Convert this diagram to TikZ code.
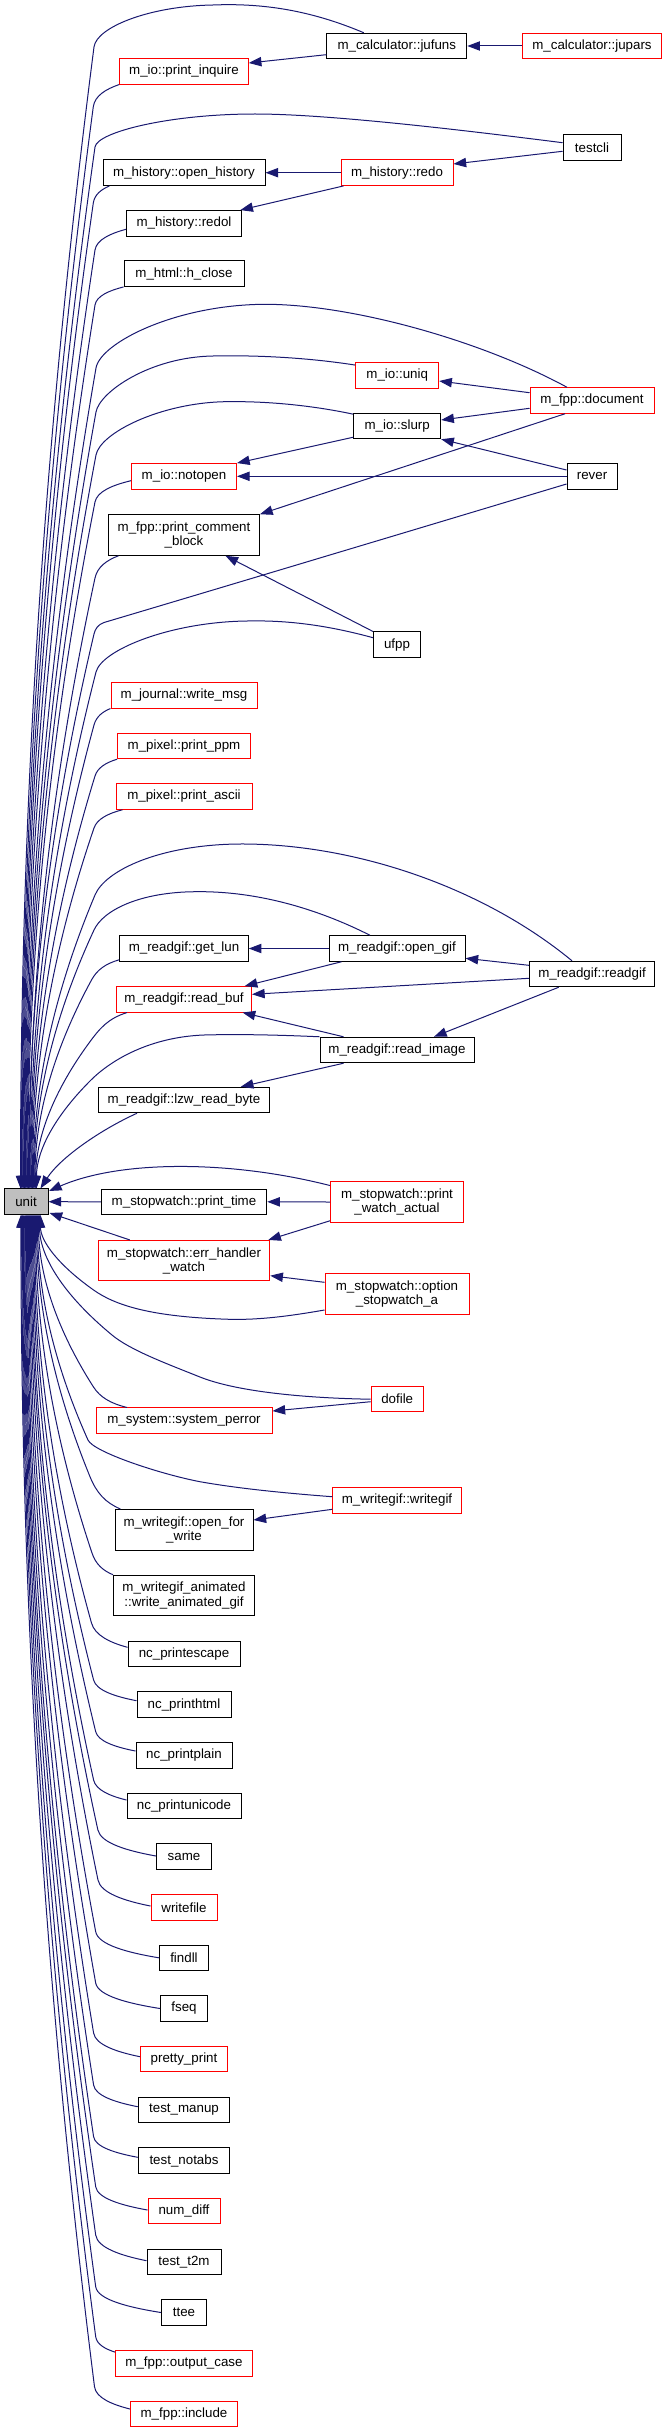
\documentclass[tikz,border=0pt]{standalone}
\usepackage{fontspec}
\setmainfont{Liberation Sans}
\usetikzlibrary{arrows.meta,calc}
\definecolor{edgecol}{RGB}{25,25,112}
\definecolor{nred}{RGB}{255,0,0}
\definecolor{ugray}{RGB}{191,191,191}
% simple edge: start, knee, target
\newcommand\UEs[3]{%
 \draw[conn] let \p1=#1, \p2=#2, \p3=#3 in
 (\p1) .. controls ({(\x1)-0.5*((\x1)-(\x2))}, {(\y1)+0.2*((\y2)-(\y1))})
 and ({(\x2)+abs((\y2)-(\y1))*((\x2)-(\x3))/abs((\y3)-(\y2))}, {(\y2)-0.5*((\y2)-(\y1))}) .. (\p2)
 .. controls ({(\x2)+0.66*((\x3)-(\x2))}, {(\y2)+0.33*((\y3)-(\y2))}) and (\x3, {(\y3)-0.35*((\y3)-(\y2))}) .. (\p3);}
% arc edge: start, c1, c2, peak, c3, h, knee, target
\newcommand\UEa[8]{%
 \draw[conn] let \p2=#7, \p3=#8 in
 #1 .. controls #2 and #3 .. #4 .. controls #5 and
 ({(\x2)+1.5*#6*((\x2)-(\x3))/abs((\y3)-(\y2))}, {(\y2)-0.75*#6*sign((\y3)-(\y2))}) .. (\p2)
 .. controls ({(\x2)+0.66*((\x3)-(\x2))}, {(\y2)+0.33*((\y3)-(\y2))}) and (\x3, {(\y3)-0.35*((\y3)-(\y2))}) .. (\p3);}
\begin{document}
\begin{tikzpicture}[x=0.75pt,y=-0.75pt,
  bx/.style={draw=black, line width=0.75pt, fill=white, inner sep=1pt, minimum height=19.1pt,
    font=\fontsize{10pt}{10.7pt}\selectfont, align=center},
  rbx/.style={bx, draw=nred},
  tall/.style={minimum height=30.4pt},
  wd/.style={minimum width=#1*0.75pt},
  conn/.style={draw=edgecol, line width=0.75pt, -{Triangle[length=9.5pt,width=7pt]}}]
\useasboundingbox (0,0) rectangle (664,2433);
% nodes
\node[bx,wd=140] (jufuns) at (396.8,46) {m\_calculator::jufuns};
\node[rbx,wd=139] (jupars) at (592,46) {m\_calculator::jupars};
\node[rbx,wd=128.5] (pinq) at (184,71.3) {m\_io::print\_inquire};
\node[bx,wd=58] (testcli) at (592,147.3) {testcli};
\node[bx,wd=162] (ohist) at (184,172.7) {m\_history::open\_history};
\node[rbx,wd=112] (redo) at (397,172.7) {m\_history::redo};
\node[bx,wd=115] (redol) at (184,223.3) {m\_history::redol};
\node[bx,wd=120] (hclose) at (184,273.7) {m\_html::h\_close};
\node[rbx,wd=83] (uniq) at (397.2,375.3) {m\_io::uniq};
\node[rbx,wd=124] (doc) at (592,400.5) {m\_fpp::document};
\node[bx,wd=87] (slurp) at (397.2,426) {m\_io::slurp};
\node[rbx,wd=105] (notopen) at (184,476.3) {m\_io::notopen};
\node[bx,wd=50] (rever) at (592,476.3) {rever};
\node[bx,tall,wd=151] (pcb) at (184,535) {m\_fpp::print\_comment\\\_block};
\node[bx,wd=47] (ufpp) at (397,644.7) {ufpp};
\node[rbx,wd=146] (wmsg) at (184,695.3) {m\_journal::write\_msg};
\node[rbx,wd=133] (ppm) at (184,746) {m\_pixel::print\_ppm};
\node[rbx,wd=136] (pascii) at (184,796.5) {m\_pixel::print\_ascii};
\node[bx,wd=128.5] (getlun) at (184,948.5) {m\_readgif::get\_lun};
\node[bx,wd=136] (opengif) at (397,948.5) {m\_readgif::open\_gif};
\node[bx,wd=125] (readgif) at (592,974) {m\_readgif::readgif};
\node[rbx,wd=135] (readbuf) at (184,999.3) {m\_readgif::read\_buf};
\node[bx,wd=154] (readimg) at (397,1050) {m\_readgif::read\_image};
\node[bx,wd=170.6] (lzw) at (184,1100) {m\_readgif::lzw\_read\_byte};
\node[bx,fill=ugray,wd=44] (unit) at (26,1201.7) {unit};
\node[bx,wd=165.5] (ptime) at (184,1201.8) {m\_stopwatch::print\_time};
\node[rbx,tall,wd=133] (pwa) at (397,1202) {m\_stopwatch::print\\\_watch\_actual};
\node[rbx,tall,wd=171.5] (err) at (184,1260.7) {m\_stopwatch::err\_handler\\\_watch};
\node[rbx,tall,wd=144] (opt) at (397,1294) {m\_stopwatch::option\\\_stopwatch\_a};
\node[rbx,wd=52] (dofile) at (397.2,1399.2) {dofile};
\node[rbx,wd=176] (sperr) at (184,1420.7) {m\_system::system\_perror};
\node[rbx,wd=128.5] (writegif) at (397,1500.5) {m\_writegif::writegif};
\node[bx,tall,wd=138] (ofw) at (184,1529.8) {m\_writegif::open\_for\\\_write};
\node[bx,tall,wd=141] (wag) at (184,1595.5) {m\_writegif\_animated\\::write\_animated\_gif};
\node[bx,wd=112] (nce) at (184,1654) {nc\_printescape};
\node[bx,wd=94] (nch) at (184,1704.7) {nc\_printhtml};
\node[bx,wd=96] (ncp) at (184,1755.3) {nc\_printplain};
\node[bx,wd=114] (ncu) at (184,1806) {nc\_printunicode};
\node[bx,wd=55] (same) at (184,1856.5) {same};
\node[rbx,wd=66] (writefile) at (184,1907.3) {writefile};
\node[bx,wd=49] (findll) at (184,1957.8) {findll};
\node[bx,wd=47] (fseq) at (184,2008.5) {fseq};
\node[rbx,wd=87] (pretty) at (184,2059) {pretty\_print};
\node[bx,wd=91.5] (tmanup) at (184,2110) {test\_manup};
\node[bx,wd=91.5] (tnotabs) at (184,2160.5) {test\_notabs};
\node[rbx,wd=72] (numdiff) at (184,2211) {num\_diff};
\node[bx,wd=74] (tt2m) at (184,2262) {test\_t2m};
\node[bx,wd=45] (ttee) at (184,2312.5) {ttee};
\node[rbx,wd=137] (outcase) at (184,2363.3) {m\_fpp::output\_case};
\node[rbx,wd=107] (include) at (184,2414) {m\_fpp::include};
% edges between callers
\draw[conn] (jupars.west) -- (jufuns.east);
\draw[conn] ($(jufuns.west)+(0,8.7)$) -- ($(pinq.east)+(0,-8.3)$);
\draw[conn] ($(testcli.west)+(0,4)$) -- ($(redo.east)+(0,-8.7)$);
\draw[conn] (redo.west) -- (ohist.east);
\draw[conn] ($(redo.south west)+(3,0)$) -- ($(redol.north east)+(-1.7,0)$);
\draw[conn] ($(doc.west)+(0,-7.8)$) -- ($(uniq.east)+(0,5.7)$);
\draw[conn] ($(doc.west)+(0,7.8)$) -- ($(slurp.east)+(0,-6)$);
\draw[conn] ($(slurp.south west)+(0,-2)$) -- (notopen.north east);
\draw[conn] ($(rever.west)+(0,-6.3)$) -- (slurp.south east);
\draw[conn] (rever.west) -- (notopen.east);
\draw[conn] ($(doc.south)+(-27,0)$) -- (pcb.north east);
\draw[conn] (ufpp.north west) -- ($(pcb.south)+(41.5,0)$);
\draw[conn] (opengif.west) -- (getlun.east);
\draw[conn] ($(readgif.west)+(0,-8.7)$) -- ($(opengif.east)+(0,9.8)$);
\draw[conn] ($(opengif.south west)+(13,0)$) -- ($(readbuf.north east)+(-7.3,0)$);
\draw[conn] ($(readgif.west)+(0,4.3)$) -- ($(readbuf.east)+(0,-5)$);
\draw[conn] ($(readimg.north west)+(24,0)$) -- ($(readbuf.south east)+(-9.4,0)$);
\draw[conn] ($(readgif.south)+(-33.3,0)$) -- ($(readimg.north)+(37,0)$);
\draw[conn] ($(readimg.south west)+(24,0)$) -- ($(lzw.north east)+(-29,0)$);
\draw[conn] (pwa.west) -- (ptime.east);
\draw[conn] ($(pwa.south west)+(0,-2)$) -- ($(err.north east)+(-2,0)$);
\draw[conn] ($(opt.west)+(0,-11.7)$) -- ($(err.east)+(0,15)$);
\draw[conn] ($(dofile.west)+(0,2.5)$) -- ($(sperr.east)+(0,-9.7)$);
\draw[conn] ($(writegif.west)+(0,8.8)$) -- ($(ofw.east)+(0,-9.8)$);
% edges into unit: right side
\draw[conn] (ptime.west) -- (unit.east);
\draw[conn] ($(err.north)+(-54.2,0)$) -- ($(unit.south east)+(1,-2)$);
\draw[conn] ($(lzw.south)+(-47,0)$) .. controls (100,1130) and (60,1158) .. ($(unit.north west)+(37,0)$);
\draw[conn] ($(pwa.north west)+(0,4.3)$) .. controls (230,1160) and (120,1160) .. ($(unit.north east)+(0.5,2.5)$);
% edges into unit: from above
\UEa{($(jufuns.north)+(-33,0)$)}{(310,10)}{(262,3)}{(213,5)}{(150,6)}{20}{(94,47)}{($(unit.north west)+(17,0)$)}
\UEs{(pinq.south west)}{(93.3,106.7)}{($(unit.north west)+(17.8,0)$)}
\UEa{($(testcli.west)+(0,-4.6)$)}{(470,131)}{(330,114)}{(255,114)}{(170,114)}{15}{(95,147)}{($(unit.north west)+(18.6,0)$)}
\UEs{($(ohist.south west)+(7,0)$)}{(93.3,203)}{($(unit.north west)+(19.4,0)$)}
\UEs{($(redol.west)+(0,6)$)}{(95,250)}{($(unit.north west)+(20.2,0)$)}
\UEs{(hclose.south west)}{(95,305)}{($(unit.north west)+(21,0)$)}
\UEa{($(doc.north)+(-25,0)$)}{(480,340)}{(350,304)}{(264,304.3)}{(175,305)}{25}{(96,368)}{($(unit.north west)+(21.8,0)$)}
\UEa{($(uniq.north west)+(0,3)$)}{(310,358)}{(260,355)}{(213,356)}{(150,357)}{20}{(96,412)}{($(unit.north west)+(22.6,0)$)}
\UEa{($(slurp.north west)+(0,1.4)$)}{(310,405)}{(265,401)}{(225,401.7)}{(160,403)}{22}{(96,455)}{($(unit.north west)+(23.4,0)$)}
\UEs{($(notopen.west)+(0,4.4)$)}{(95,502)}{($(unit.north west)+(24.2,0)$)}
\UEa{($(rever.west)+(0,7.7)$)}{(400,534)}{(200,594)}{(104,622.5)}{(98,624.5)}{5}{(94,634)}{($(unit.north west)+(25,0)$)}
\UEs{($(pcb.south west)+(10.5,0)$)}{(95,578)}{($(unit.north west)+(25.8,0)$)}
\UEa{($(ufpp.west)+(0,-7)$)}{(330,626)}{(290,620)}{(247,621)}{(170,622)}{22}{(96,672)}{($(unit.north west)+(26.6,0)$)}
\UEs{(wmsg.south west)}{(94,725)}{($(unit.north west)+(27.4,0)$)}
\UEs{(ppm.south west)}{(95,776)}{($(unit.north west)+(28.2,0)$)}
\UEs{($(pascii.south west)+(7,0)$)}{(94,828)}{($(unit.north west)+(29,0)$)}
\UEa{($(readgif.north)+(-20,0)$)}{(480,885)}{(350,843)}{(238,844)}{(160,845)}{25}{(95,895)}{($(unit.north west)+(29.8,0)$)}
\UEa{($(opengif.north)+(-27,0)$)}{(310,905)}{(250,891)}{(196,891.7)}{(140,892)}{20}{(94,930)}{($(unit.north west)+(30.6,0)$)}
\UEs{($(getlun.south west)+(0,-2)$)}{(91.5,980)}{($(unit.north west)+(31.4,0)$)}
\UEs{($(readbuf.south west)+(11,0)$)}{(89,1043)}{($(unit.north west)+(32.2,0)$)}
\UEa{(readimg.north west)}{(280,1035)}{(240,1034)}{(204,1035)}{(150,1037)}{20}{(91,1080)}{($(unit.north west)+(33,0)$)}
% edges into unit: from below
\UEa{($(opt.west)+(0,16)$)}{(290,1316)}{(260,1320)}{(230,1319.3)}{(150,1317)}{15}{(93.6,1290)}{($(unit.south west)+(37,0)$)}
\UEa{(dofile.west)}{(300,1398)}{(235,1391)}{(200,1377)}{(165,1363)}{15}{(112,1335)}{($(unit.south west)+(36,0)$)}
\UEs{($(sperr.north west)+(31.5,0)$)}{(93.3,1386.7)}{($(unit.south west)+(35,0)$)}
\UEa{($(writegif.west)+(0,-3.8)$)}{(270,1492)}{(230,1487)}{(200,1481.7)}{(160,1474)}{12}{(88,1440)}{($(unit.south west)+(34,0)$)}
\UEs{($(ofw.north west)+(6,0)$)}{(90,1476.7)}{($(unit.south west)+(33,0)$)}
\UEs{(wag.north west)}{(92,1553)}{($(unit.south west)+(32,0)$)}
\UEs{($(nce.west)+(0,-6.7)$)}{(91.5,1623)}{($(unit.south west)+(31,0)$)}
\UEs{($(nch.west)+(0,-4)$)}{(93.6,1680)}{($(unit.south west)+(30,0)$)}
\UEs{($(ncp.west)+(0,-4.3)$)}{(95.7,1731.7)}{($(unit.south west)+(29,0)$)}
\UEs{($(ncu.west)+(0,-6)$)}{(93.6,1780)}{($(unit.south west)+(28,0)$)}
\UEs{($(same.west)+(0,-0.5)$)}{(97.9,1830)}{($(unit.south west)+(27,0)$)}
\UEs{($(writefile.west)+(0,-1.3)$)}{(98,1880)}{($(unit.south west)+(26,0)$)}
\UEs{(findll.west)}{(95.7,1931.7)}{($(unit.south west)+(25,0)$)}
\UEs{(fseq.west)}{(95.7,1983)}{($(unit.south west)+(24,0)$)}
\UEs{($(pretty.west)+(0,-2.3)$)}{(93.6,2033)}{($(unit.south west)+(23,0)$)}
\UEs{($(tmanup.west)+(0,-3.3)$)}{(93.6,2085)}{($(unit.south west)+(22.2,0)$)}
\UEs{($(tnotabs.west)+(0,-3.2)$)}{(93.6,2136.7)}{($(unit.south west)+(21.4,0)$)}
\UEs{($(numdiff.west)+(0,-1)$)}{(95.7,2186.7)}{($(unit.south west)+(20.6,0)$)}
\UEs{($(tt2m.west)+(0,-1.3)$)}{(95.7,2235)}{($(unit.south west)+(19.8,0)$)}
\UEs{(ttee.west)}{(95.7,2286.7)}{($(unit.south west)+(19,0)$)}
\UEs{($(outcase.north west)+(0,2)$)}{(95.7,2336.7)}{($(unit.south west)+(18.2,0)$)}
\UEs{($(include.west)+(0,-5)$)}{(94.5,2386.7)}{($(unit.south west)+(17.4,0)$)}
\end{tikzpicture}
\end{document}
